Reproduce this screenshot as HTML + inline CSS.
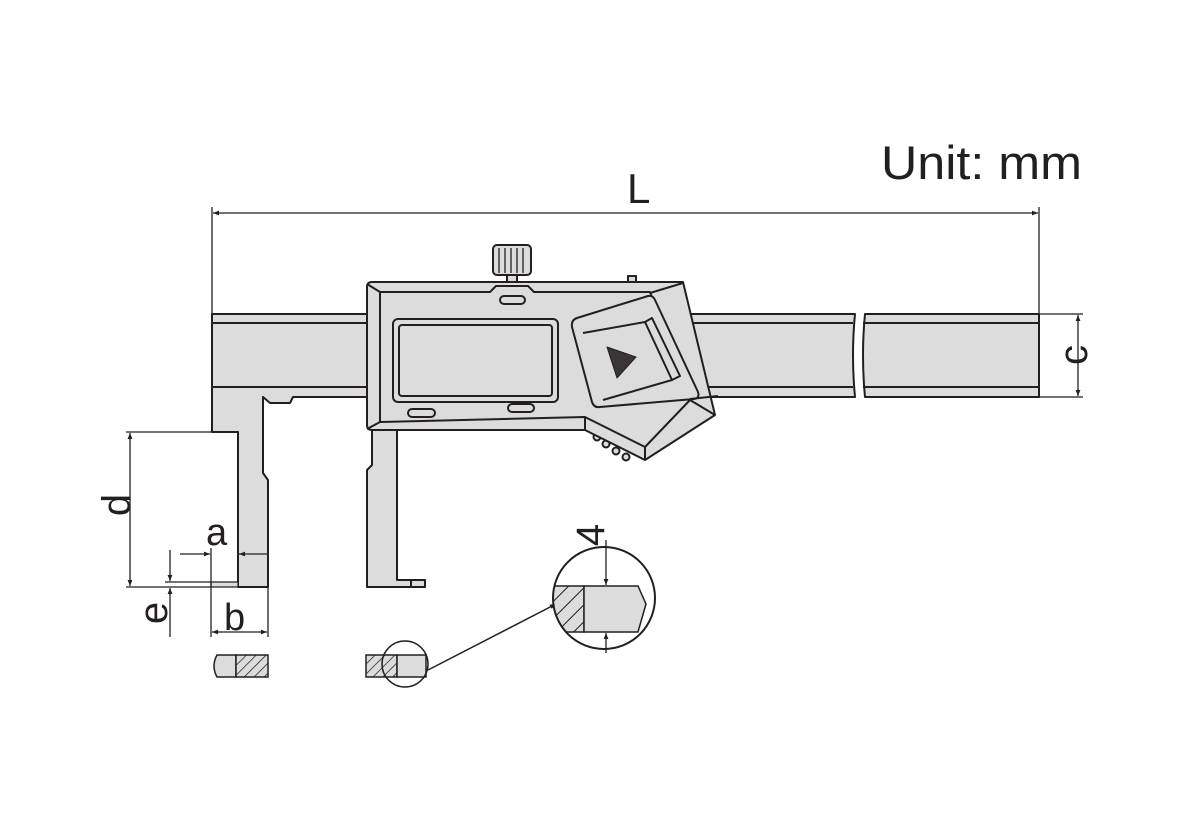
<!DOCTYPE html>
<html><head><meta charset="utf-8"><style>
html,body{margin:0;padding:0;background:#fff;}
svg{display:block;}
text{font-family:"Liberation Sans",Arial,sans-serif;fill:#231f20;}
</style></head><body>
<svg width="1200" height="840" viewBox="0 0 1200 840" xmlns="http://www.w3.org/2000/svg">
<defs>
<marker id="ar" viewBox="0 0 10 10" refX="10" refY="5" markerWidth="9" markerHeight="6" orient="auto-start-reverse" markerUnits="userSpaceOnUse"><path d="M0,1 L10,5 L0,9 z" fill="#231f20"/></marker>
<pattern id="hat" width="7" height="7" patternUnits="userSpaceOnUse" patternTransform="rotate(45)"><rect width="7" height="7" fill="#dcdcdc"/><line x1="0" y1="0" x2="0" y2="7" stroke="#231f20" stroke-width="1.5"/></pattern>
<pattern id="hat2" width="12" height="12" patternUnits="userSpaceOnUse" patternTransform="rotate(45)"><rect width="12" height="12" fill="#dcdcdc"/><line x1="0" y1="0" x2="0" y2="12" stroke="#231f20" stroke-width="2"/></pattern>
</defs>
<g stroke="#231f20" stroke-width="2" fill="#dcdcdc" stroke-linejoin="round">
<!-- fixed jaw -->
<path d="M212,396 V432 H238 V587 H268 V480 L263,473 V396 Z" />
<!-- beam left part -->
<path d="M212,314 H420 V397 H293 L290,403 H270 L263,397 H212 Z" />
<line x1="212" y1="323" x2="420" y2="323"/>
<line x1="212" y1="387" x2="420" y2="387"/>
<rect x="213" y="396" width="49" height="2" fill="#dcdcdc" stroke="none"/>
<!-- beam right -->
<path d="M690,314 H855 Q851,355 855,397 H690 Z"/>
<path d="M865,314 H1039 V397 H865 Q861,355 865,314 Z"/>
<line x1="690" y1="323" x2="853" y2="323"/><line x1="863" y1="323" x2="1039" y2="323"/>
<line x1="700" y1="387" x2="853" y2="387"/><line x1="863" y1="387" x2="1039" y2="387"/>
<!-- moving jaw -->
<path d="M372,425 V465 L367,470 V587 H425 V580 H397 V425 Z"/>
<line x1="411" y1="580" x2="411" y2="587"/>
<!-- knob -->
<rect x="493" y="245" width="38" height="30" rx="4"/>
<g stroke-width="1.3"><line x1="499" y1="248" x2="499" y2="273"/><line x1="505" y1="248" x2="505" y2="273"/><line x1="511" y1="248" x2="511" y2="273"/><line x1="517" y1="248" x2="517" y2="273"/><line x1="523" y1="248" x2="523" y2="273"/></g>
<rect x="507" y="275" width="10" height="7"/>
<rect x="628" y="276" width="8" height="7"/>
<!-- teeth -->
<circle cx="597" cy="437" r="3.5"/><circle cx="606" cy="444" r="3.5"/><circle cx="616" cy="451" r="3.5"/><circle cx="626" cy="457" r="3.5"/>
<!-- slider body -->
<path d="M372,282 H683 L715,415 L645,460 L585,430 L372,430 Q367,430 367,425 V287 Q367,282 372,282 Z"/>
<path d="M380,292 H490 L496,286 H528 L534,292 H650 L690,400 L645,447 L585,417 L380,422 Z" fill="none"/>
<line x1="367" y1="284" x2="380" y2="292"/><line x1="367" y1="429" x2="380" y2="422"/>
<line x1="683" y1="283" x2="650" y2="293"/><line x1="585" y1="417" x2="585" y2="430"/><line x1="645" y1="447" x2="645" y2="460"/>
<line x1="690" y1="400" x2="715" y2="415"/>
<rect x="500" y="296" width="25" height="8" rx="4"/>
<rect x="393" y="319" width="165" height="83" rx="5"/>
<rect x="399" y="325" width="153" height="71" rx="3"/>
<rect x="408" y="409" width="27" height="8" rx="4"/>
<rect x="508" y="404" width="26" height="8" rx="4"/>
<!-- panel -->
<path d="M577,318 L648,296 Q653,295 655,300 L698,392 Q700,398 694,399 L600,407 Q594,408 592,402 L572,327 Q571,320 577,318 Z"/>
<path d="M583,333 L645,322 L672,380 L603,400" fill="none"/>
<path d="M645,322 L652,318 L680,376 L672,380" fill="none"/>
<path d="M607,347 L636,357 L617,378 Z" fill="#3a3536" stroke-width="1"/>
<line x1="690" y1="399" x2="718" y2="396" />
<!-- bottom tip fixed jaw -->
<rect x="211" y="582" width="27" height="5" stroke-width="1.2"/>
</g>
<!-- dimensions -->
<g stroke="#231f20" stroke-width="1.3" fill="none">
<line x1="212" y1="207" x2="212" y2="314"/><line x1="1039" y1="207" x2="1039" y2="314"/>
<line x1="213" y1="213" x2="1038" y2="213" marker-start="url(#ar)" marker-end="url(#ar)"/>
<line x1="1039" y1="314" x2="1083" y2="314"/><line x1="1039" y1="397" x2="1083" y2="397"/>
<line x1="1078" y1="315" x2="1078" y2="396" marker-start="url(#ar)" marker-end="url(#ar)"/>
<line x1="126" y1="432" x2="212" y2="432"/><line x1="126" y1="587" x2="211" y2="587"/>
<line x1="130" y1="433" x2="130" y2="586" marker-start="url(#ar)" marker-end="url(#ar)"/>
<line x1="211" y1="548" x2="211" y2="637"/><line x1="268" y1="587" x2="268" y2="637"/>
<line x1="180" y1="554" x2="210" y2="554" marker-end="url(#ar)"/>
<line x1="268" y1="554" x2="239" y2="554" marker-end="url(#ar)"/>
<line x1="165" y1="582" x2="211" y2="582"/>
<line x1="170" y1="550" x2="170" y2="581" marker-end="url(#ar)"/>
<line x1="170" y1="637" x2="170" y2="588" marker-end="url(#ar)"/>
<line x1="212" y1="632" x2="267" y2="632" marker-start="url(#ar)" marker-end="url(#ar)"/>
</g>
<!-- cross sections -->
<g stroke="#231f20" stroke-width="1.5">
<path d="M236,655 H217 Q211,666 217,677 H236 Z" fill="#dcdcdc"/>
<rect x="236" y="655" width="32" height="22" fill="url(#hat)"/>
<rect x="366" y="655" width="31" height="22" fill="url(#hat)"/>
<rect x="397" y="655" width="29" height="22" fill="#dcdcdc"/>
<circle cx="405" cy="664" r="23" fill="none"/>
<line x1="428" y1="670" x2="556" y2="604" marker-end="url(#ar)"/>
<clipPath id="cc"><circle cx="604" cy="598" r="51"/></clipPath>
<g clip-path="url(#cc)">
<rect x="540" y="586" width="44" height="46" fill="url(#hat2)"/>
<path d="M584,586 H638 L646,604 L638,632 H584 Z" fill="#dcdcdc"/>
</g>
<circle cx="604" cy="598" r="51" fill="none" stroke-width="2"/>
<line x1="606" y1="540" x2="606" y2="585" marker-end="url(#ar)" stroke-width="1.3"/>
<line x1="606" y1="653" x2="606" y2="633" marker-end="url(#ar)" stroke-width="1.3"/>
</g>
<!-- labels -->
<text x="881" y="179" font-size="47" textLength="201" lengthAdjust="spacingAndGlyphs">Unit: mm</text>
<text x="627" y="203" font-size="42">L</text>
<text x="206" y="545" font-size="38">a</text>
<text x="224" y="630" font-size="38">b</text>
<text transform="translate(1087,355) rotate(-90)" font-size="40" text-anchor="middle">c</text>
<text transform="translate(130,505) rotate(-90)" font-size="40" text-anchor="middle">d</text>
<text transform="translate(167,613) rotate(-90)" font-size="40" text-anchor="middle">e</text>
<text transform="translate(604,535) rotate(-90)" font-size="40" text-anchor="middle">4</text>
</svg>
</body></html>
